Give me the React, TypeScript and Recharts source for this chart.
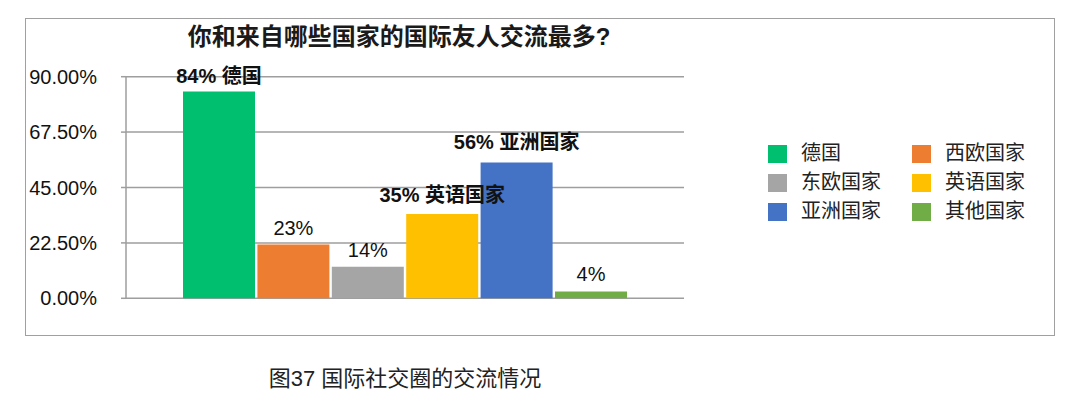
import React from 'react';
import { BarChart, Bar, XAxis, YAxis, CartesianGrid, LabelList, Legend } from 'recharts';

const categories = ['国际友人'];
const seriesNames = ['德国', '西欧国家', '东欧国家', '英语国家', '亚洲国家', '其他国家'];
const seriesValues = [84, 21.8, 12.8, 34.2, 55.2, 2.8];
const valueLabels = ['84% 德国', '23%', '14%', '35% 英语国家', '56% 亚洲国家', '4%'];
const yTicks = [0, 22.5, 45, 67.5, 90];
const title = '你和来自哪些国家的国际友人交流最多?';
const caption = '图37 国际社交圈的交流情况';

const colors = ['#00BF6F', '#ED7D31', '#A5A5A5', '#FFC000', '#4472C4', '#70AD47'];
const boldLabel = [true, false, false, true, true, false];
const labelOffsets = [8, 10, 10, 12, 13, 10];

const FONT = "'Liberation Sans', 'Noto Sans CJK SC', sans-serif";

const data = categories.map((c) => {
  const row: any = { name: c };
  seriesNames.forEach((s, i) => {
    row[s] = seriesValues[i];
  });
  return row;
});

const renderLegend = (props: any) => {
  const payload = [...(props.payload || [])].sort(
    (a: any, b: any) => seriesNames.indexOf(a.value) - seriesNames.indexOf(b.value)
  );
  return (
    <div style={{ display: 'grid', gridTemplateColumns: '144px 130px', fontFamily: FONT }}>
      {payload.map((p: any) => (
        <div key={p.value} style={{ display: 'flex', alignItems: 'center', height: 29 }}>
          <span style={{ display: 'inline-block', width: 19, height: 18, background: p.color, marginRight: 14 }} />
          <span style={{ fontSize: 20, color: '#222', lineHeight: '29px' }}>{p.value}</span>
        </div>
      ))}
    </div>
  );
};

const makeLabel = (i: number) => (props: any) => {
  const { x, y, width } = props;
  return (
    <text
      x={Number(x) + Number(width) / 2}
      y={Number(y) - labelOffsets[i]}
      textAnchor="middle"
      fill="#111"
      fontSize={20}
      fontFamily={FONT}
      fontWeight={boldLabel[i] ? 'bold' : 'normal'}
    >
      {valueLabels[i]}
    </text>
  );
};

export default function App() {
  return (
    <div style={{ position: 'absolute', left: 0, top: 0, width: 1080, height: 406, background: '#fff', fontFamily: FONT }}>
      <div
        style={{
          position: 'absolute',
          left: 25,
          top: 18,
          width: 1030,
          height: 318,
          border: '1.5px solid #A0A0A0',
          boxSizing: 'border-box',
        }}
      />
      <div
        style={{
          position: 'absolute',
          left: 399,
          top: 22,
          transform: 'translateX(-50%)',
          whiteSpace: 'nowrap',
          fontSize: 24,
          lineHeight: '30px',
          fontWeight: 'bold',
          color: '#1a1a1a',
        }}
      >
        {title}
      </div>
      <div style={{ position: 'absolute', left: 0, top: 0 }}>
        <BarChart
          width={1080}
          height={406}
          data={data}
          margin={{ top: 76.7, right: 396, bottom: 107.7, left: 26 }}
          barGap={2.4}
        >
          <CartesianGrid horizontal vertical={false} stroke="#9E9E9E" strokeWidth={1.5} />
          <XAxis dataKey="name" hide />
          <YAxis
            domain={[0, 90]}
            ticks={yTicks}
            interval={0}
            width={100}
            tickSize={5}
            tickMargin={24}
            tickFormatter={(v: number) => v.toFixed(2) + '%'}
            axisLine={{ stroke: '#9E9E9E', strokeWidth: 1.5 }}
            tickLine={{ stroke: '#9E9E9E', strokeWidth: 1.5 }}
            tick={{ fill: '#111', fontSize: 20, fontFamily: FONT }}
          />
          <Legend
            layout="vertical"
            align="center"
            verticalAlign="middle"
            content={renderLegend}
            wrapperStyle={{ left: 768, top: 139, width: 300 }}
          />
          {seriesNames.map((s, i) => (
            <Bar key={s} dataKey={s} name={s} fill={colors[i]} barSize={72} isAnimationActive={false}>
              <LabelList dataKey={s} content={makeLabel(i)} />
            </Bar>
          ))}
        </BarChart>
      </div>
      <div
        style={{
          position: 'absolute',
          left: 405,
          top: 366,
          transform: 'translateX(-50%)',
          whiteSpace: 'nowrap',
          fontSize: 22,
          lineHeight: '26px',
          color: '#222',
        }}
      >
        {caption}
      </div>
    </div>
  );
}
